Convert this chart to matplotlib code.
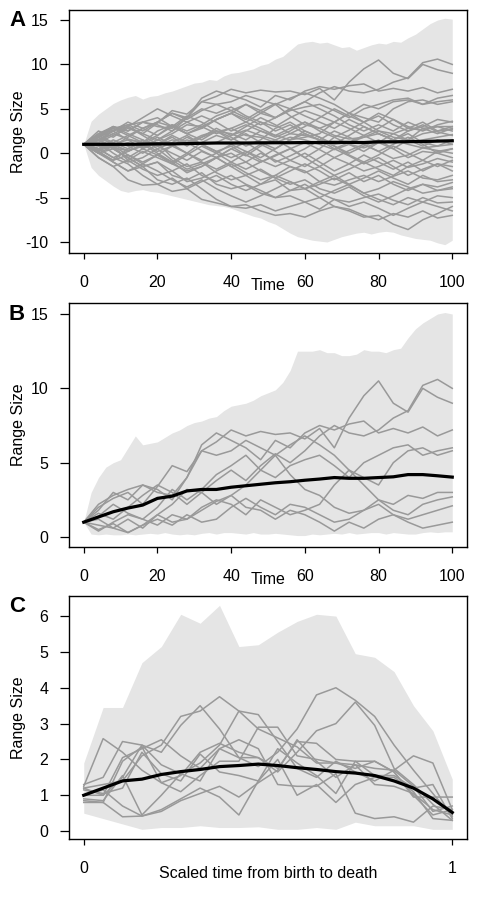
import numpy as np
import matplotlib
matplotlib.use("Agg")
import matplotlib.pyplot as plt

plt.rcParams['font.family'] = ['Liberation Sans', 'DejaVu Sans']
plt.rcParams['axes.unicode_minus'] = False

FILL = "#E5E5E5"
GREY = "#999999"

# ---------------- Panel A / B data ----------------
t_lines = np.arange(0, 101, 4)          # time points of trajectories
t_env = np.arange(0, 101, 2)            # time points of envelopes

# lineages that stay positive (shown in panel B and A)
B1 = [1, 2.0, 2.6, 3.0, 2.2, 3.4, 4.8, 4.4, 5.8, 6.4, 7.2, 6.8, 7.1, 6.9, 7.0, 6.6, 7.3, 6.0, 8.0, 9.5, 10.5, 9.0, 8.4, 10.0, 9.4, 9.0]
B2 = [1, 1.6, 1.2, 2.0, 2.8, 3.5, 3.0, 2.2, 3.0, 3.8, 4.5, 3.8, 4.8, 5.6, 5.0, 5.8, 6.8, 7.5, 7.0, 6.8, 7.2, 8.0, 8.5, 10.2, 10.6, 10.0]
B3 = [1, 1.8, 3.0, 2.5, 3.5, 3.2, 2.5, 4.0, 6.2, 7.0, 6.5, 6.0, 5.2, 6.5, 6.0, 7.0, 7.5, 7.2, 7.6, 7.8, 7.0, 7.3, 7.0, 7.4, 6.8, 7.2]
B4 = [1, 1.4, 2.2, 1.6, 1.2, 2.0, 3.2, 2.5, 3.2, 4.2, 4.8, 5.5, 4.5, 4.0, 4.8, 5.2, 5.5, 4.8, 4.0, 5.0, 5.5, 6.0, 6.2, 5.5, 5.8, 6.0]
B5 = [1, 0.8, 0.6, 1.2, 0.6, 1.5, 2.2, 3.2, 3.0, 2.2, 2.8, 3.5, 4.5, 5.5, 6.2, 6.8, 6.2, 5.5, 4.5, 4.0, 3.5, 5.0, 5.8, 6.0, 5.5, 5.8]
B6 = [1, 2.2, 2.8, 3.2, 3.5, 3.0, 2.8, 4.0, 5.8, 5.5, 5.8, 6.5, 6.0, 5.5, 4.2, 3.2, 2.8, 2.0, 1.6, 1.8, 2.5, 2.2, 2.8, 2.6, 3.0, 3.0]
B7 = [1, 1.2, 0.6, 0.3, 0.8, 1.5, 1.0, 1.2, 2.0, 2.5, 2.2, 1.5, 2.5, 2.0, 1.5, 1.8, 2.2, 3.5, 4.5, 3.5, 2.5, 1.8, 1.5, 2.2, 2.5, 2.7]
B8 = [1, 0.5, 0.9, 0.3, 0.8, 1.2, 0.8, 1.5, 1.0, 1.2, 2.0, 2.6, 2.0, 1.5, 2.2, 2.0, 1.5, 1.0, 1.2, 1.8, 2.2, 1.5, 1.2, 1.5, 1.8, 2.1]
B9 = [1, 0.4, 1.0, 1.5, 1.2, 0.8, 1.5, 1.2, 1.8, 2.4, 2.8, 2.0, 1.8, 1.2, 1.8, 1.5, 1.0, 0.4, 1.0, 0.6, 1.2, 1.5, 1.0, 0.6, 0.8, 1.0]
surviving = [B1, B2, B3, B4, B5, B6, B7, B8, B9]

# other lineages (panel A only)
A1 = [1, 0.2, -1.0, -2.0, -1.5, -3.0, -3.5, -2.8, -4.0, -5.2, -6.0, -5.8, -6.5, -7.0, -6.8, -7.2, -6.5, -6.0, -6.3, -7.0, -7.5, -6.8, -7.2, -6.5, -7.3, -7.0]
A2 = [1, 1.5, 0.5, -0.5, -1.5, -1.0, -2.5, -3.0, -2.2, -3.5, -4.0, -3.6, -4.5, -5.0, -4.8, -5.5, -5.0, -6.0, -6.5, -7.2, -7.0, -8.0, -8.6, -7.5, -6.8, -6.0]
A3 = [1, -0.5, -1.5, -3.0, -3.6, -3.5, -4.3, -4.0, -5.2, -5.6, -6.0, -6.2, -5.8, -6.5, -6.0, -5.5, -6.3, -5.2, -5.5, -5.0, -4.6, -5.3, -5.8, -5.0, -5.6, -5.5]
A4 = [1, 1.8, 2.5, 1.5, 0.5, 1.2, -0.5, -1.5, -1.0, -2.2, -3.0, -2.5, -1.8, -2.8, -3.5, -3.0, -4.0, -4.5, -3.8, -4.8, -5.5, -4.8, -4.0, -3.5, -3.8, -3.3]
A5 = [1, 0.3, 0.8, -0.8, -1.8, -2.5, -2.0, -3.2, -2.8, -2.0, -1.2, -2.2, -3.0, -2.5, -1.5, -2.0, -3.2, -3.6, -3.0, -2.5, -3.2, -2.6, -2.0, -2.8, -3.0, -2.5]
A6 = [1, 1.2, 0.0, -1.0, -0.5, 0.5, -0.8, -1.8, -1.2, -0.5, -1.5, -2.5, -3.5, -3.0, -4.2, -4.0, -3.5, -2.8, -3.6, -4.5, -4.0, -3.2, -3.8, -4.5, -4.2, -4.0]
A7 = [1, 2.0, 1.2, 0.5, 1.5, 0.8, 0.0, -0.8, 0.2, -0.5, -1.5, -1.0, 0.0, -0.8, -1.5, -2.2, -1.5, -0.5, -1.2, -2.0, -1.5, -0.8, -1.6, -1.2, -0.6, -1.0]
A8 = [1, 0.0, -0.8, 0.5, 1.2, 0.2, 0.8, 1.8, 1.0, 0.2, 0.8, -0.2, -1.0, -0.3, 0.5, 1.2, 0.4, -0.5, 0.3, 1.0, 0.2, -0.6, -0.2, 0.6, 0.3, 0.0]
A9 = [1, 1.8, 2.8, 2.0, 1.2, 2.5, 3.2, 2.2, 1.5, 2.5, 1.8, 0.8, 1.5, 2.8, 3.5, 2.5, 1.8, 1.0, 2.0, 3.0, 2.2, 1.5, 2.5, 3.2, 2.4, 2.0]
A10 = [1, 2.2, 3.0, 2.5, 3.5, 4.0, 3.0, 2.2, 2.8, 3.8, 4.5, 3.5, 2.8, 2.0, 2.8, 3.5, 2.5, 1.8, 2.6, 3.5, 4.2, 3.2, 2.5, 3.0, 3.8, 3.5]
A11 = [1, 0.5, -0.5, 0.2, 1.0, 0.0, -1.0, 0.0, 1.2, 2.0, 1.5, 2.5, 3.5, 3.0, 4.0, 4.8, 4.2, 3.5, 4.5, 5.5, 5.0, 5.8, 6.0, 5.5, 6.2, 6.5]
A12 = [1, 0.0, -1.0, -2.0, -1.2, -0.2, -1.0, -2.2, -1.5, -0.5, 0.5, -0.3, 0.8, 1.5, 0.6, -0.5, 0.5, 1.8, 1.0, 0.2, 1.2, 2.2, 1.5, 2.8, 3.0, 2.5]
A13 = [1, 1.5, 2.5, 3.5, 2.8, 2.0, 3.0, 4.2, 3.5, 2.5, 1.5, 2.2, 1.2, 0.5, 1.5, 2.5, 1.8, 0.8, 0.0, 0.8, 1.5, 0.5, -0.5, 0.2, 0.0, -0.5]
A14 = [1, 0.5, -0.5, -1.2, -2.5, -3.5, -2.8, -4.0, -3.2, -2.5, -3.5, -4.2, -3.5, -2.5, -3.2, -4.0, -5.0, -4.2, -3.5, -4.5, -5.2, -5.8, -5.0, -5.5, -4.8, -5.0]
A15 = [1, 1.5, 0.8, 1.8, 2.8, 3.5, 4.5, 3.8, 4.8, 5.5, 4.8, 4.0, 3.2, 4.0, 5.0, 4.2, 3.5, 2.8, 3.8, 3.0, 2.2, 1.5, 2.2, 1.2, 0.8, 1.5]
A16 = [1, 0.0, 0.8, -0.2, -1.0, -0.2, 0.8, 0.0, -1.0, -1.8, -1.0, 0.0, 1.0, 0.2, -0.8, -1.5, -0.5, 0.5, -0.3, -1.2, -0.5, -1.5, -2.5, -1.8, -1.2, -2.0]
A17 = [1, 2.5, 1.8, 3.0, 2.0, 1.0, 2.0, 1.2, 0.3, -0.5, 0.5, 1.2, 0.2, -1.0, -0.3, 0.5, 1.5, 0.8, -0.2, -1.0, -0.2, 0.8, 0.0, -0.8, 0.2, 0.5]
A18 = [1, 0.5, 1.5, 0.8, 0.0, 1.0, 1.8, 0.8, 1.8, 2.8, 2.0, 3.0, 4.0, 3.2, 2.2, 3.0, 4.0, 5.0, 4.2, 3.5, 4.5, 3.8, 2.8, 3.5, 2.5, 3.0]
A19 = [1, 0.2, -0.8, -0.2, -1.2, -2.0, -3.0, -3.8, -3.0, -4.0, -4.8, -5.5, -4.8, -4.0, -3.2, -4.0, -3.2, -2.5, -3.5, -2.8, -2.0, -2.8, -3.5, -2.5, -3.2, -3.0]
A20 = [1, 1.8, 1.0, 0.2, 1.0, 1.8, 1.0, 0.0, -0.8, 0.0, 1.0, 0.2, -0.5, 0.5, 1.5, 2.2, 1.5, 0.5, 1.2, 2.0, 1.2, 0.5, 1.5, 0.8, 1.5, 1.0]
A21 = [1, 2.0, 3.0, 2.2, 1.5, 0.5, 1.2, 2.0, 1.0, 0.2, -0.5, 0.2, -0.8, -1.5, -0.8, 0.0, -1.0, -2.0, -1.2, -0.2, -1.0, -1.8, -1.0, -2.0, -1.2, -1.5]
A22 = [1, 1.2, 2.0, 2.8, 2.2, 1.5, 2.5, 3.5, 4.2, 3.5, 2.5, 3.2, 2.5, 1.8, 2.5, 3.5, 2.8, 3.5, 2.8, 2.0, 2.8, 3.8, 3.0, 2.5, 3.2, 3.6]
A23 = [1, 0.0, 0.5, -0.5, -1.5, -1.0, -2.0, -1.2, -2.5, -3.2, -2.5, -3.5, -4.2, -5.0, -4.2, -3.5, -4.5, -5.2, -6.0, -5.5, -6.2, -7.0, -6.2, -5.5, -6.0, -6.5]
A24 = [1, 1.5, 2.2, 3.0, 4.0, 5.0, 4.2, 3.5, 2.8, 3.8, 4.5, 5.5, 4.8, 4.0, 5.0, 5.8, 5.0, 4.2, 3.2, 2.5, 3.2, 2.5, 3.5, 2.8, 2.2, 2.8]
A25 = [1, -0.5, -1.5, -0.8, 0.2, -0.5, -1.2, -0.2, 0.8, 0.0, -1.0, -1.8, -1.0, -0.2, 0.5, -0.5, -1.5, -2.5, -1.8, -1.0, -1.8, -2.5, -1.5, -0.8, -1.5, -0.8]
A26 = [1, 1.5, 0.5, -0.5, 0.5, -0.2, -1.2, -2.0, -1.5, -0.5, 0.0, -1.0, -2.0, -2.8, -2.0, -1.2, -2.0, -3.0, -2.2, -3.2, -2.5, -3.5, -4.2, -3.5, -4.2, -3.8]
A27 = [1, 1.5, 2.5, 3.2, 2.5, 3.5, 4.5, 4.0, 5.0, 4.5, 5.2, 4.2, 3.5, 2.5, 3.2, 2.2, 1.5, 2.5, 1.8, 1.0, 0.2, 1.0, 1.8, 1.0, 0.0, 0.5]
others = [A1, A2, A3, A4, A5, A6, A7, A8, A9, A10, A11, A12, A13, A14, A15, A16, A17,
          A18, A19, A20, A21, A22, A23, A24, A25, A26, A27]

A_upper = [1.0, 3.6, 4.4, 5.0, 5.6, 6.0, 6.3, 6.5, 6.1, 6.4, 6.5, 6.8, 7.0, 7.3, 7.6, 7.9, 8.0, 8.3, 8.2, 8.7,
           9.0, 9.1, 9.3, 9.5, 9.9, 10.1, 10.6, 10.9, 11.6, 12.3, 12.5, 12.6, 12.4, 12.5, 12.2, 11.9, 12.0, 11.6,
           11.9, 12.2, 12.4, 12.3, 12.6, 12.5, 13.0, 13.4, 14.0, 14.6, 15.0, 15.2, 15.1]
A_lower = [1.0, -1.6, -2.5, -3.1, -3.7, -4.2, -4.4, -4.2, -4.1, -4.3, -4.4, -4.6, -4.8, -5.0, -5.2, -5.4, -5.6,
           -5.8, -5.9, -6.0, -6.2, -6.5, -6.8, -7.1, -7.3, -7.7, -8.0, -8.5, -9.0, -9.4, -9.6, -9.8, -9.9, -10.0,
           -9.7, -9.4, -9.2, -9.0, -8.9, -9.1, -8.9, -8.8, -8.9, -9.2, -9.4, -9.6, -9.7, -9.8, -10.1, -10.3, -9.8]
A_mean = [1.0, 1.0, 1.0, 1.0, 1.02, 1.05, 1.05, 1.08, 1.12, 1.15, 1.15, 1.15, 1.17, 1.18, 1.18, 1.2, 1.2,
          1.22, 1.22, 1.2, 1.28, 1.28, 1.3, 1.32, 1.36, 1.4]

B_upper = [1.0, 3.0, 4.0, 4.7, 5.0, 5.2, 6.0, 6.8, 6.2, 6.3, 6.4, 6.7, 7.0, 7.2, 7.5, 7.7, 7.8, 8.0, 8.1, 8.5,
           8.8, 8.9, 9.0, 9.2, 9.5, 9.7, 9.9, 10.4, 11.2, 12.5, 12.5, 12.5, 12.6, 12.4, 12.4, 12.2, 12.2, 12.3,
           12.6, 12.5, 12.5, 12.4, 12.6, 12.7, 13.4, 14.0, 14.4, 14.7, 15.0, 15.1, 15.0]
B_lower = [1.0, 0.2, 0.15, 0.2, 0.15, 0.15, 0.2, 0.15, 0.2, 0.25, 0.2, 0.3, 0.2, 0.15, 0.2, 0.15, 0.25, 0.3,
           0.2, 0.3, 0.3, 0.25, 0.2, 0.3, 0.2, 0.2, 0.25, 0.2, 0.15, 0.1, 0.1, 0.2, 0.15, 0.2, 0.25, 0.2, 0.3,
           0.2, 0.25, 0.3, 0.3, 0.2, 0.3, 0.25, 0.2, 0.2, 0.3, 0.35, 0.3, 0.35, 0.35]
B_mean = [1.0, 1.35, 1.7, 1.95, 2.15, 2.6, 2.75, 3.1, 3.2, 3.2, 3.35, 3.45, 3.55, 3.65, 3.72, 3.82, 3.9, 4.0,
          3.95, 3.95, 4.0, 4.05, 4.2, 4.2, 4.12, 4.03]

# ---------------- Panel C data ----------------
x_scaled = np.linspace(0, 1, 20)
C1 = [1.25, 2.58, 2.2, 1.7, 1.35, 1.55, 2.2, 2.45, 2.2, 2.05, 1.75, 2.5, 2.45, 2.0, 1.95, 1.55, 1.55, 1.2, 1.3, 0.35]
C2 = [1.2, 1.3, 1.4, 2.1, 2.4, 3.2, 3.35, 3.75, 3.35, 2.85, 2.6, 2.35, 1.9, 1.9, 1.75, 1.95, 1.65, 1.0, 0.45, 0.6]
C3 = [0.85, 0.8, 0.4, 0.42, 0.55, 0.85, 1.05, 1.25, 0.95, 1.35, 1.7, 2.55, 1.95, 1.5, 1.85, 1.75, 1.7, 2.1, 1.9, 0.6]
C4 = [1.0, 1.0, 1.5, 2.4, 2.2, 2.95, 3.5, 2.85, 2.05, 1.8, 2.2, 2.85, 3.8, 4.0, 3.65, 3.2, 2.4, 1.7, 1.05, 0.4]
C5 = [1.3, 1.5, 2.5, 2.4, 1.85, 1.6, 1.9, 2.4, 3.35, 3.25, 2.5, 1.75, 1.5, 1.95, 1.65, 1.4, 1.7, 1.25, 0.55, 0.7]
C6 = [0.9, 0.85, 1.55, 0.45, 1.0, 1.6, 1.4, 2.3, 2.05, 2.05, 1.65, 2.2, 2.8, 3.0, 3.6, 2.95, 1.75, 1.3, 0.75, 0.3]
C7 = [1.0, 1.15, 0.7, 0.42, 0.6, 0.9, 1.2, 0.95, 0.45, 1.4, 2.0, 1.0, 1.3, 0.8, 1.3, 1.5, 1.5, 1.1, 0.35, 0.3]
C8 = [1.2, 1.0, 2.05, 2.3, 2.55, 2.1, 1.75, 2.3, 2.55, 2.3, 1.3, 1.25, 1.25, 1.6, 0.5, 0.35, 0.4, 0.25, 0.7, 0.6]
C9 = [1.15, 1.05, 1.2, 2.2, 1.6, 1.4, 2.15, 1.65, 1.55, 1.4, 2.3, 1.9, 1.55, 1.05, 1.95, 1.95, 1.65, 0.95, 0.95, 0.95]
C10 = [0.8, 0.8, 1.95, 2.35, 1.35, 1.1, 1.55, 1.95, 1.95, 2.9, 2.9, 2.1, 2.0, 1.9, 1.85, 1.3, 1.25, 1.05, 0.6, 0.45]
scaled_lines = [C1, C2, C3, C4, C5, C6, C7, C8, C9, C10]
C_mean = [1.0, 1.2, 1.4, 1.45, 1.58, 1.66, 1.72, 1.8, 1.83, 1.87, 1.83, 1.77, 1.72, 1.66, 1.62, 1.55, 1.4, 1.2, 0.9, 0.52]
C_upper = [1.9, 3.45, 3.45, 4.7, 5.15, 6.05, 5.8, 6.3, 5.15, 5.2, 5.55, 5.85, 6.05, 6.0, 4.95, 4.85, 4.45, 3.5, 2.8, 1.45]
C_lower = [0.5, 0.35, 0.2, 0.05, 0.1, 0.1, 0.15, 0.1, 0.1, 0.12, 0.05, 0.05, 0.1, 0.05, 0.25, 0.15, 0.15, 0.15, 0.05, 0.05]

# ---------------- Figure ----------------
W, H = 487, 899
fig = plt.figure(figsize=(W / 100, H / 100), dpi=100)

def px_axes(left, top, right, bottom):
    return fig.add_axes([left / W, 1 - bottom / H, (right - left) / W, (bottom - top) / H])

def style(ax):
    for s in ax.spines.values():
        s.set_linewidth(1.0)
    ax.tick_params(axis='y', direction='out', length=6.5, width=0.9, pad=8.5, labelsize=11.5)
    ax.tick_params(axis='x', direction='out', length=4.5, width=0.9, pad=11.5, labelsize=11.5)
    ax.yaxis.set_label_coords((26 - 69) / 398, 0.5)

axA = px_axes(69, 10, 467, 253)
axB = px_axes(69, 303, 467, 547)
axC = px_axes(69, 596, 467, 839)

# Panel A
axA.fill_between(t_env, A_lower, A_upper, color=FILL, lw=0)
for ln in others + surviving:
    axA.plot(t_lines, ln, color=GREY, lw=1.1)
axA.plot(t_lines, A_mean, color='black', lw=2.3)
axA.set_xlim(-4, 104)
axA.set_ylim(-11.24, 16.13)
axA.set_xticks([0, 20, 40, 60, 80, 100])
axA.set_yticks([-10, -5, 0, 5, 10, 15])
axA.set_ylabel("Range Size", fontsize=11.5)

# Panel B
axB.fill_between(t_env, B_lower, B_upper, color=FILL, lw=0)
for ln in surviving:
    axB.plot(t_lines, ln, color=GREY, lw=1.1)
axB.plot(t_lines, B_mean, color='black', lw=2.3)
axB.set_xlim(-4, 104)
axB.set_ylim(-0.67, 15.74)
axB.set_xticks([0, 20, 40, 60, 80, 100])
axB.set_yticks([0, 5, 10, 15])
axB.set_ylabel("Range Size", fontsize=11.5)

# Panel C
axC.fill_between(x_scaled, C_lower, C_upper, color=FILL, lw=0)
for ln in scaled_lines:
    axC.plot(x_scaled, ln, color=GREY, lw=1.1)
axC.plot(x_scaled, C_mean, color='black', lw=2.3)
axC.set_xlim(-0.04, 1.04)
axC.set_ylim(-0.22, 6.56)
axC.set_xticks([0, 1])
axC.set_yticks([0, 1, 2, 3, 4, 5, 6])
axC.set_ylabel("Range Size", fontsize=11.5)

for ax in (axA, axB, axC):
    style(ax)

# x labels (placed as in the original, overlapping the tick label row)
fig.text(268 / W, 1 - 290.5 / H, "Time", ha='center', va='baseline', fontsize=11.5)
fig.text(268 / W, 1 - 583.5 / H, "Time", ha='center', va='baseline', fontsize=11.5)
fig.text(268 / W, 1 - 877.5 / H, "Scaled time from birth to death", ha='center', va='baseline', fontsize=11.5)

# panel letters
for lab, yc in (("A", 21), ("B", 315), ("C", 606)):
    fig.text(17 / W, 1 - yc / H, lab, ha='center', va='center', fontsize=16, fontweight='bold')

fig.savefig("out.png", dpi=100)
